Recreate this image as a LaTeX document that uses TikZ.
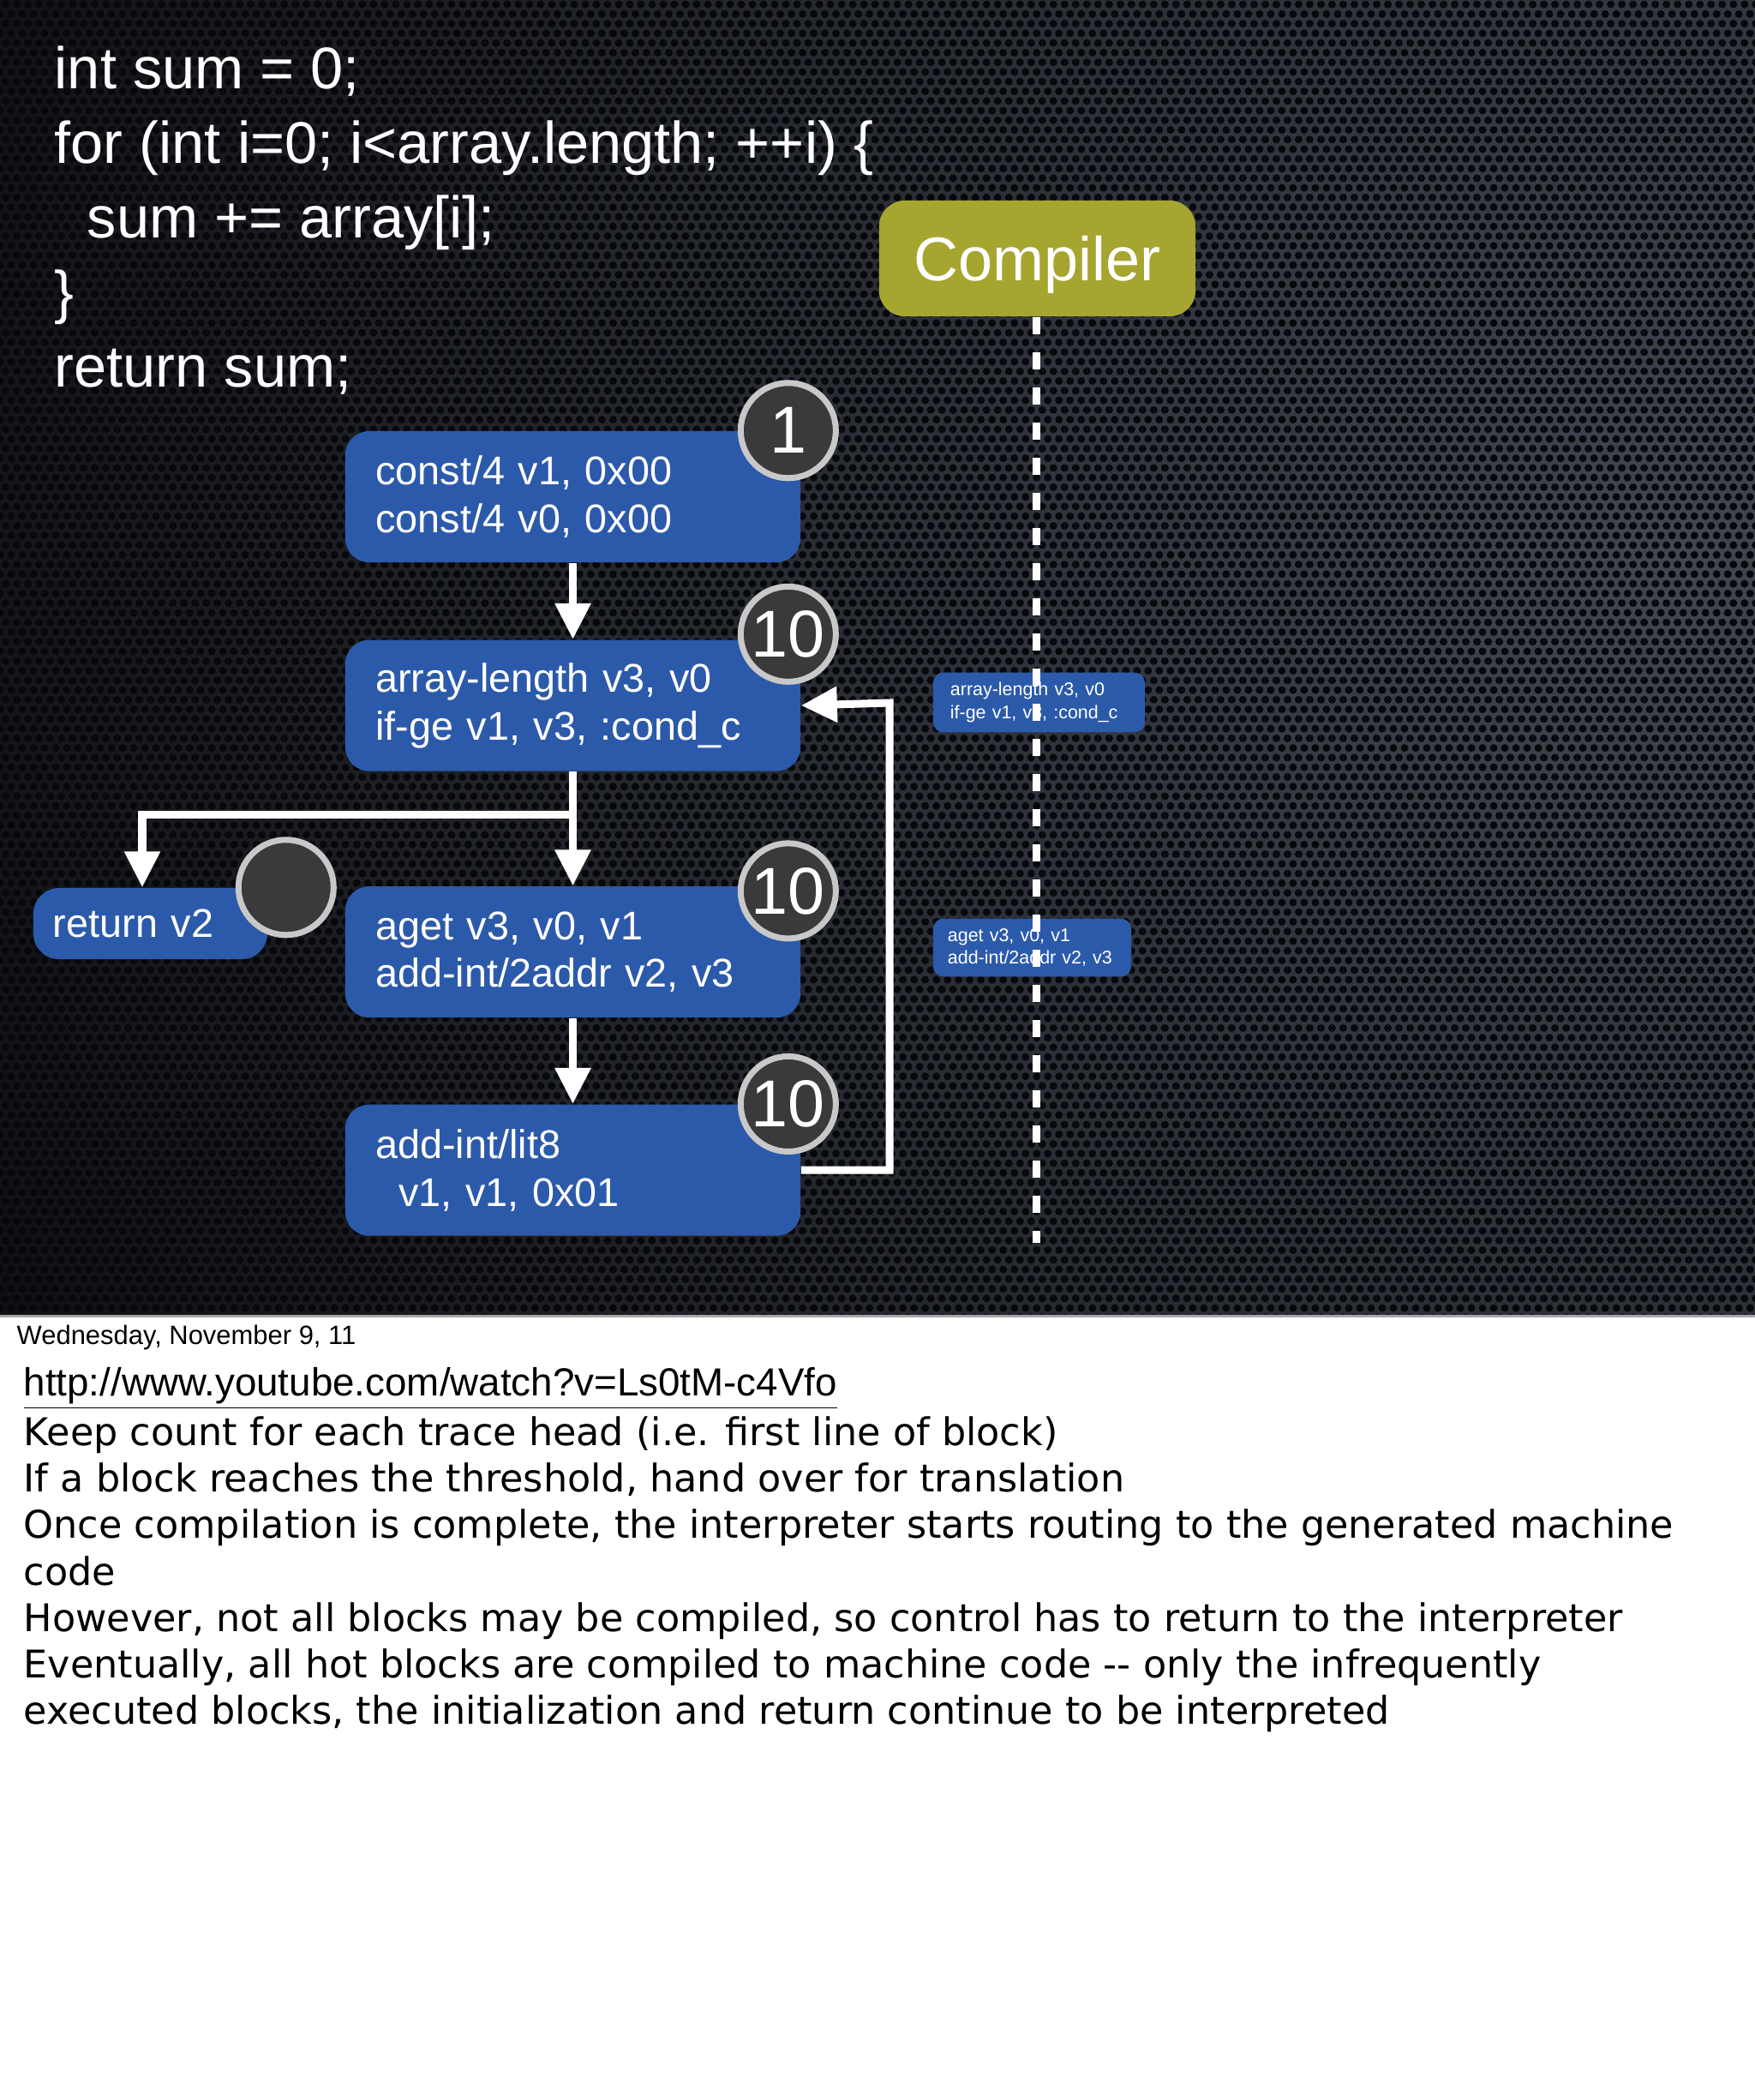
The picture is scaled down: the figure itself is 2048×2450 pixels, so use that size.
\documentclass[tikz,border=0pt]{standalone}
\usepackage{fontspec}
\usepackage{xcolor}
\usepackage{tikz}
\usetikzlibrary{positioning, arrows.meta, patterns.meta}
\newfontfamily\helv{Liberation Sans}
\newfontfamily\notefont{DejaVu Sans}

\definecolor{blockblue}{RGB}{44,90,170}
\definecolor{jitolive}{RGB}{166,165,48}
\definecolor{countfill}{RGB}{58,58,60}
\definecolor{countring}{RGB}{200,200,200}
\definecolor{bgdark}{RGB}{12,13,16}
\definecolor{bglight}{RGB}{66,70,80}
\definecolor{meshhole}{RGB}{6,8,12}

% mesh texture of the slide background
\tikzdeclarepattern{
  name=meshholes,
  type=uncolored,
  bounding box={(-0.065cm,-0.1126cm) and (0.065cm,0.1126cm)},
  tile size={(0.13cm,0.2252cm)},
  code={
    \fill (0,0) circle (0.045cm);
    \fill (-0.065cm,-0.1126cm) circle (0.045cm);
    \fill (0.065cm,-0.1126cm) circle (0.045cm);
    \fill (-0.065cm,0.1126cm) circle (0.045cm);
    \fill (0.065cm,0.1126cm) circle (0.045cm);
  }
}

\begin{document}
\begin{tikzpicture}[
    x=0.01cm, y=-0.01cm,
    block/.style={
        fill=blockblue, rounded corners=0.28cm, text=white,
        minimum width=5.31cm, minimum height=1.53cm,
        text width=4.6cm, inner xsep=0.355cm, align=left,
        font=\helv\fontsize{13.3}{15.9}\selectfont
    },
    retblock/.style={
        block, minimum width=2.73cm, minimum height=0.83cm,
        text width=2.27cm, inner xsep=0.23cm, rounded corners=0.3cm
    },
    miniblock/.style={
        fill=blockblue, rounded corners=0.12cm, text=white,
        minimum width=2.47cm, minimum height=0.67cm,
        text width=2.07cm, inner xsep=0.2cm, align=left,
        font=\helv\fontsize{6.1}{7.5}\selectfont
    },
    counter/.style={
        circle, fill=countfill, draw=countring, line width=0.07cm,
        minimum size=1.11cm, inner sep=0, text=white,
        font=\helv\fontsize{22}{22}\selectfont
    },
    compiler/.style={
        fill=jitolive, rounded corners=0.3cm, text=white,
        minimum width=3.69cm, minimum height=1.35cm, text depth=0pt,
        font=\helv\fontsize{20.5}{20.5}\selectfont
    },
    arrow/.style={-{Triangle[width=0.4cm,length=0.42cm]}, white, line width=0.09cm},
    trace/.style={white, line width=0.09cm, dash pattern=on 0.2cm off 0.21cm},
    notetext/.style={anchor=base west, inner sep=0, text=black}
]
\useasboundingbox (0,0) rectangle (2048,2450);

% slide and notes page
\fill[white] (0,0) rectangle (2048,2450);
\begin{scope}
  \clip (0,0) rectangle (2048,1534);
  \fill[bgdark] (0,0) rectangle (2048,1534);
  \shade[inner color=bglight, outer color=bgdark] (1950,650) circle (2250);
  \fill[pattern=meshholes, pattern color=meshhole] (0,0) rectangle (2048,1534);
\end{scope}
\draw[gray!70, line width=0.03cm] (0,1535) -- (2048,1535);

% source code
\node[anchor=north west, inner sep=0, align=left, text=white,
      font=\helv\fontsize{19.5}{24.75}\selectfont] (source) at (63,53)
    {int sum = 0;\\
     for (int i=0; i<array.length; ++i) \{\\
     \hspace*{0.38cm}sum += array[i];\\
     \}\\
     return sum;};

% basic blocks
\node[block] (init) at (668.5,579.5) {const/4 v1, 0x00\\const/4 v0, 0x00};
\node[block, below=0.89cm of init] (loophead) {array-length v3, v0\\if-ge v1, v3, :cond\_c};
\node[block, below=1.33cm of loophead] (body) {aget v3, v0, v1\\add-int/2addr v2, v3};
\node[block, below=1.0cm of body] (incr) {add-int/lit8\\\hspace*{0.27cm}v1, v1, 0x01};
\node[retblock] (ret) at (175.5,1077.5) {return v2};

% execution counters
\node[counter, xshift=-0.15cm] (cinit) at (init.north east) {1};
\node[counter, xshift=-0.15cm, yshift=0.06cm] (chead) at (loophead.north east) {10};
\node[counter, xshift=-0.15cm, yshift=-0.06cm] (cbody) at (body.north east) {10};
\node[counter, xshift=-0.15cm] (cincr) at (incr.north east) {10};
\node[counter, xshift=0.21cm] (cret) at (ret.north east) {};

% control flow
\coordinate (split) at (668.5,950);
\coordinate (retdrop) at (166,950);
\coordinate (backedge) at (1038,820);
\draw[arrow] (init) -- (loophead);
\draw[arrow] (loophead) -- (split) -- (retdrop) -- (ret.north -| retdrop);
\draw[arrow] (split) -- (body);
\draw[arrow] (body) -- (incr);
\draw[arrow] (incr.east) -| (backedge) -- (loophead.east);

% compiler thread
\node[compiler] (jit) at (1210.5,301.5) {Compiler};
\node[miniblock] (minihead) at (1212.5,819.5) {array-length v3, v0\\if-ge v1, v3, :cond\_c};
\node[miniblock, minimum width=2.31cm, text width=1.97cm, inner xsep=0.17cm] (minibody)
    at (1204.5,1105.5) {aget v3, v0, v1\\add-int/2addr v2, v3};
\coordinate (jitend) at (1209,1450);
\draw[trace] (jit.south -| jitend) -- (jitend);

% speaker notes
\node[notetext, font=\helv\fontsize{8.8}{10.5}\selectfont] (date) at (19,1568)
    {Wednesday, November 9, 11};
\node[notetext, font=\helv\fontsize{13}{15.5}\selectfont] (url) at (27,1628)
    {\underline{http://www.youtube.com/watch?v=Ls0tM-c4Vfo}};
\node[anchor=north west, inner sep=0, align=left, text=black,
      font=\notefont\fontsize{12.65}{15.4}\selectfont] (notes) at (27,1652)
    {Keep count for each trace head (i.e. first line of block)\\
     If a block reaches the threshold, hand over for translation\\
     Once compilation is complete, the interpreter starts routing to the generated machine\\
     code\\
     However, not all blocks may be compiled, so control has to return to the interpreter\\
     Eventually, all hot blocks are compiled to machine code -{}- only the infrequently\\
     executed blocks, the initialization and return continue to be interpreted};

\end{tikzpicture}
\end{document}
